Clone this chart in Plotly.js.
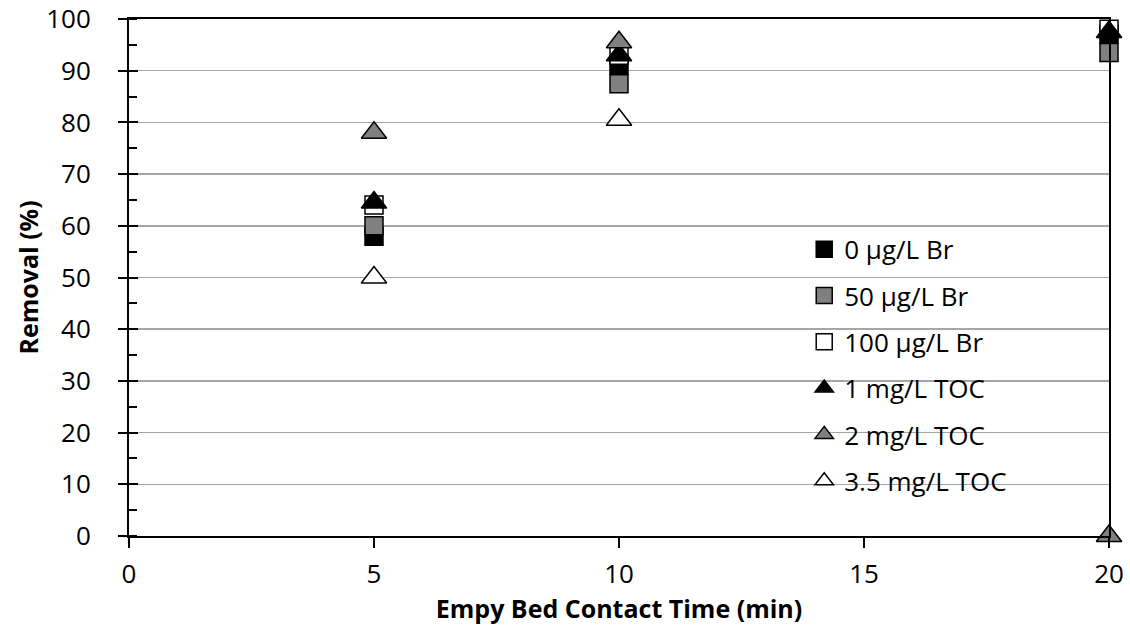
<!DOCTYPE html>
<html><head><meta charset="utf-8">
<script src="https://cdn.plot.ly/plotly-3.0.1.min.js"></script>
<style>html,body{margin:0;padding:0;background:#fff}#chart{width:1130px;height:626px}</style>
</head><body><div id="chart"></div>
<script>
var ebct = [5, 10, 20];
var br0 = [58, 91, 97];
var br50 = [60, 87.5, 93.5];
var br100 = [64, 93, 98];
var toc1 = [64.5, 93, 97.5];
var toc2 = [78, 95.5, 0];
var toc35 = [50, 80.5, null];
var seriesNames = ['0 μg/L Br', '50 μg/L Br', '100 μg/L Br', '1 mg/L TOC', '2 mg/L TOC', '3.5 mg/L TOC'];

var HATCH = '#808080';
var styles = [
  {symbol: 'square', color: '#000', size: 18},
  {symbol: 'square', color: HATCH, size: 18},
  {symbol: 'square', color: '#fff', size: 18},
  {symbol: 'triangle-up', color: '#000', size: 22},
  {symbol: 'triangle-up', color: HATCH, size: 22},
  {symbol: 'triangle-up', color: '#fff', size: 22}
];
var vals = [br0, br50, br100, toc1, toc2, toc35];
var traces = vals.map(function (v, i) {
  return {
    type: 'scatter', mode: 'markers', x: ebct, y: v, name: seriesNames[i],
    legendgroup: 'g' + i, cliponaxis: false,
    marker: {symbol: styles[i].symbol, size: styles[i].size, color: styles[i].color,
             line: {color: '#000', width: 1.5}}
  };
});
traces.push({type: 'scatter', mode: 'markers', x: [0], y: [0], yaxis: 'y2', showlegend: false,
  hoverinfo: 'skip', marker: {opacity: 0}});

var FONT = '"Open Sans", sans-serif';
var layout = {
  width: 1130, height: 626,
  margin: {l: 129, r: 21, t: 19, b: 90},
  paper_bgcolor: '#fff', plot_bgcolor: '#fff',
  font: {family: FONT, color: '#000', size: 26},
  showlegend: true,
  legend: {x: 0.689, y: 0.6, xanchor: 'left', yanchor: 'top', bgcolor: 'rgba(0,0,0,0)',
           font: {size: 26, family: FONT}, tracegroupgap: 9.5, itemwidth: 30},
  xaxis: {
    range: [0, 20], dtick: 5, tick0: 0, showgrid: false, zeroline: false,
    showline: true, linecolor: '#000', linewidth: 2, mirror: true,
    ticks: 'outside', ticklen: 10, tickwidth: 2, tickcolor: '#000',
    tickfont: {size: 26}, ticklabelstandoff: 4,
    title: {text: '<b>Empy Bed Contact Time (min)</b>', font: {size: 25}, standoff: 0}
  },
  yaxis: {
    range: [0, 100], dtick: 10, tick0: 0, showgrid: true, gridcolor: '#a6a6a6', gridwidth: 1.5,
    zeroline: false, showline: true, linecolor: '#000', linewidth: 2, mirror: true,
    ticks: 'outside', ticklen: 9, tickwidth: 2, tickcolor: '#000',
    minor: {dtick: 5, ticks: 'inside', ticklen: 8, tickwidth: 2, tickcolor: '#000', showgrid: false},
    tickfont: {size: 26}, ticklabelstandoff: 22,
    title: {text: '<b>Removal (%)</b>', font: {size: 25}, standoff: 0}
  },
  yaxis2: {
    overlaying: 'y', side: 'left', range: [0, 100], dtick: 10, tick0: 0,
    showgrid: false, zeroline: false, showline: false, showticklabels: false,
    ticks: 'inside', ticklen: 9, tickwidth: 2, tickcolor: '#000'
  }
};
Plotly.newPlot('chart', traces, layout, {displayModeBar: false, staticPlot: true});
</script></body></html>
